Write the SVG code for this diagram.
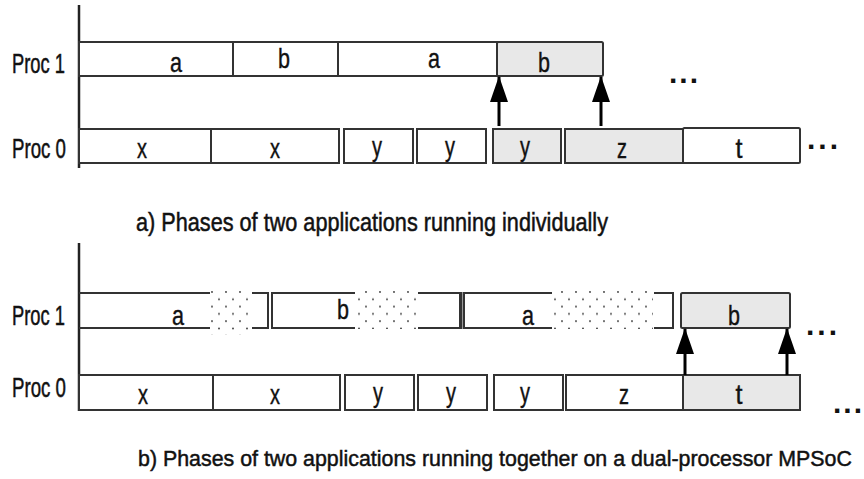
<svg xmlns="http://www.w3.org/2000/svg" width="864" height="479" viewBox="0 0 864 479">
<style>
.bg{fill:#fff}
.box{fill:#fff;stroke:#333;stroke-width:2}
.gray{fill:#e8e8e8;stroke:#333;stroke-width:2}
.ln{fill:none;stroke:#333;stroke-width:2}
.axis{fill:none;stroke:#222;stroke-width:2.5}
.lbl{font-family:"Liberation Sans",Arial,sans-serif;font-size:27px;fill:#111;stroke:#111;stroke-width:0.5}
.t{font-family:"Liberation Sans",Arial,sans-serif;font-size:28px;fill:#111;stroke:#111;stroke-width:0.4;text-anchor:middle}
.cap{font-family:"Liberation Sans",Arial,sans-serif;font-size:25px;fill:#111;stroke:#111;stroke-width:0.5}
.capb{font-family:"Liberation Sans",Arial,sans-serif;font-size:23px;fill:#111;stroke:#111;stroke-width:0.5}
.dots{font-family:"Liberation Sans",Arial,sans-serif;font-size:30px;font-weight:bold;fill:#111}
.arr{stroke:#000;stroke-width:3;fill:none;marker-end:url(#ah)}
</style>
<defs>
<marker id="ah" markerUnits="userSpaceOnUse" markerWidth="26" markerHeight="18" viewBox="0 0 26 18" refX="25" refY="9" orient="auto">
<path d="M0,0 L26,9 L0,18 Z" fill="#000"/>
</marker>
<pattern id="stip" patternUnits="userSpaceOnUse" x="211" y="291" width="14" height="14.6">
<circle cx="1" cy="1" r="0.9" fill="#333"/>
<circle cx="8" cy="8.3" r="0.9" fill="#333"/>
</pattern>
</defs>
<rect class="bg" x="0" y="0" width="864" height="479"/>

<g id="part-a">
<line class="axis" x1="79" y1="5" x2="79" y2="168"/>
<text class="lbl" x="12" y="73" textLength="53" lengthAdjust="spacingAndGlyphs">Proc 1</text>
<text class="lbl" x="12" y="158" textLength="54" lengthAdjust="spacingAndGlyphs">Proc 0</text>

<g id="a-p1-a1"><rect class="box" x="79" y="42" width="154" height="34"/><text class="t" x="176" y="72" textLength="12" lengthAdjust="spacingAndGlyphs">a</text></g>
<g id="a-p1-b1"><rect class="box" x="233" y="42" width="105" height="34"/><text class="t" x="284" y="68" textLength="12" lengthAdjust="spacingAndGlyphs">b</text></g>
<g id="a-p1-a2"><rect class="box" x="338" y="42" width="159" height="34"/><text class="t" x="434" y="68" textLength="12" lengthAdjust="spacingAndGlyphs">a</text></g>
<g id="a-p1-b2"><rect class="gray" x="497" y="42" width="106" height="34" rx="1.5"/><text class="t" x="544" y="72" textLength="12" lengthAdjust="spacingAndGlyphs">b</text></g>
<text class="dots" x="669" y="83" textLength="29" lengthAdjust="spacing">...</text>

<g id="a-p0-x1"><rect class="box" x="79" y="129" width="132" height="34"/><text class="t" x="142" y="158" textLength="10" lengthAdjust="spacingAndGlyphs">x</text></g>
<g id="a-p0-x2"><rect class="box" x="211" y="129" width="128" height="34"/><text class="t" x="275" y="158" textLength="10" lengthAdjust="spacingAndGlyphs">x</text></g>
<g id="a-p0-y1"><rect class="box" x="344" y="129" width="69" height="34"/><text class="t" x="377" y="156" textLength="10" lengthAdjust="spacingAndGlyphs">y</text></g>
<g id="a-p0-y2"><rect class="box" x="417" y="129" width="69" height="34"/><text class="t" x="450" y="156" textLength="10" lengthAdjust="spacingAndGlyphs">y</text></g>
<g id="a-p0-y3"><rect class="gray" x="493" y="129" width="68" height="34"/><text class="t" x="525" y="156" textLength="10" lengthAdjust="spacingAndGlyphs">y</text></g>
<g id="a-p0-z"><rect class="gray" x="565" y="129" width="118" height="34"/><text class="t" x="622" y="158" textLength="10" lengthAdjust="spacingAndGlyphs">z</text></g>
<g id="a-p0-t"><rect class="box" x="683" y="128" width="117" height="35" rx="1.5"/><text class="t" x="739" y="158" textLength="7" lengthAdjust="spacingAndGlyphs">t</text></g>
<text class="dots" x="807" y="149" textLength="31" lengthAdjust="spacing">...</text>

<text class="cap" x="136" y="231" textLength="472" lengthAdjust="spacingAndGlyphs">a) Phases of two applications running individually</text>
</g>

<g id="part-b">
<line class="axis" x1="79" y1="243" x2="79" y2="411"/>
<text class="lbl" x="12" y="325" textLength="53" lengthAdjust="spacingAndGlyphs">Proc 1</text>
<text class="lbl" x="12" y="397" textLength="54" lengthAdjust="spacingAndGlyphs">Proc 0</text>

<rect x="210" y="290" width="41" height="45" fill="url(#stip)"/>
<rect x="357" y="290" width="60" height="39" fill="url(#stip)"/>
<rect x="554" y="290" width="99" height="39" fill="url(#stip)"/>

<g id="b-p1-a1">
<path class="ln" d="M79,293 H210 M79,328 H210 M252,293 H268 V328 H252"/>
<text class="t" x="178" y="325" textLength="12" lengthAdjust="spacingAndGlyphs">a</text>
</g>
<g id="b-p1-b1">
<path class="ln" d="M355,293 H272 V328 H355 M418,293 H460 V328 H418"/>
<line x1="461" y1="292" x2="461" y2="329" stroke="#333" stroke-width="3"/>
<text class="t" x="343" y="319" textLength="12" lengthAdjust="spacingAndGlyphs">b</text>
</g>
<g id="b-p1-a2">
<path class="ln" d="M552,293 H464 V328 H552 M654,293 H673 V328 H654"/>
<text class="t" x="528" y="325" textLength="12" lengthAdjust="spacingAndGlyphs">a</text>
</g>
<g id="b-p1-b2"><rect class="gray" x="681" y="293" width="109" height="35" rx="1.5"/><text class="t" x="734" y="325" textLength="12" lengthAdjust="spacingAndGlyphs">b</text></g>
<text class="dots" x="806" y="335" textLength="31" lengthAdjust="spacing">...</text>

<g id="b-p0-x1"><rect class="box" x="79" y="375" width="134" height="35"/><text class="t" x="143" y="404" textLength="10" lengthAdjust="spacingAndGlyphs">x</text></g>
<g id="b-p0-x2"><rect class="box" x="213" y="375" width="127" height="35"/><text class="t" x="275" y="404" textLength="10" lengthAdjust="spacingAndGlyphs">x</text></g>
<g id="b-p0-y1"><rect class="box" x="345" y="375" width="69" height="35"/><text class="t" x="378" y="402" textLength="10" lengthAdjust="spacingAndGlyphs">y</text></g>
<g id="b-p0-y2"><rect class="box" x="418" y="375" width="69" height="35"/><text class="t" x="451" y="402" textLength="10" lengthAdjust="spacingAndGlyphs">y</text></g>
<g id="b-p0-y3"><rect class="box" x="494" y="375" width="69" height="35"/><text class="t" x="525" y="402" textLength="10" lengthAdjust="spacingAndGlyphs">y</text></g>
<g id="b-p0-z"><rect class="box" x="566" y="375" width="117" height="35"/><text class="t" x="624" y="404" textLength="10" lengthAdjust="spacingAndGlyphs">z</text></g>
<g id="b-p0-t"><rect class="gray" x="683" y="375" width="117" height="35"/><text class="t" x="739" y="404" textLength="7" lengthAdjust="spacingAndGlyphs">t</text></g>
<text class="dots" x="833" y="413" textLength="29" lengthAdjust="spacing">...</text>

<text class="capb" transform="translate(138,466) scale(0.93,1)" x="0" y="0">b) Phases of two applications running together on a dual-processor MPSoC</text>
</g>

<g id="connectors">
<line class="arr" x1="499" y1="126" x2="499" y2="77"/>
<line class="arr" x1="601" y1="126" x2="601" y2="77"/>
<line class="arr" x1="685" y1="375" x2="685" y2="329"/>
<line class="arr" x1="787" y1="375" x2="787" y2="329"/>
</g>
</svg>
